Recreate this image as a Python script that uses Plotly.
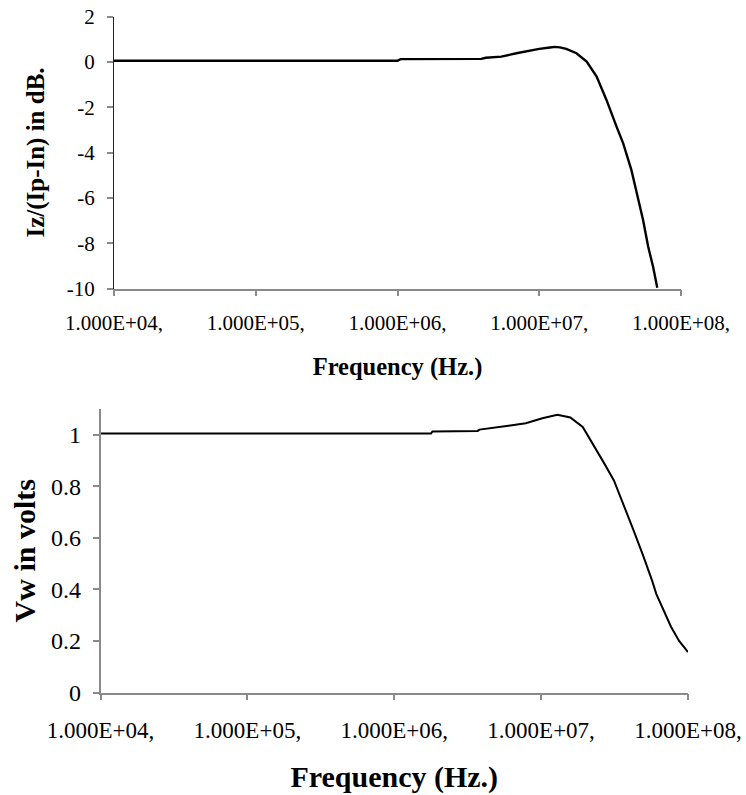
import plotly.graph_objects as go

# ---- Top chart: Iz/(Ip-In) in dB versus frequency ----
freq_db = [1e4, 1.0e6, 1.05e6, 3.9e6, 4.2e6, 5.4e6, 6.9e6, 8.6e6, 1.0e7, 1.19e7,
           1.29e7, 1.4e7, 1.55e7, 1.83e7, 2.16e7, 2.54e7, 2.98e7, 3.51e7, 3.91e7,
           4.47e7, 4.98e7, 5.4e7, 5.87e7, 6.36e7, 6.8e7]
gain_db = [0.05, 0.05, 0.12, 0.13, 0.18, 0.23, 0.38, 0.50, 0.57, 0.63,
           0.66, 0.64, 0.57, 0.38, 0.01, -0.65, -1.68, -2.86, -3.6,
           -4.78, -6.1, -6.98, -8.16, -9.05, -9.97]

# ---- Bottom chart: Vw in volts versus frequency ----
freq_v = [1e4, 1.78e6, 1.82e6, 3.7e6, 3.8e6, 4.9e6, 6.0e6, 7.86e6, 1.02e7, 1.29e7,
          1.58e7, 1.92e7, 2.32e7, 2.69e7, 3.13e7, 3.63e7, 4.22e7, 4.9e7, 5.2e7,
          5.69e7, 6.08e7, 7.1e7, 7.66e7, 8.7e7, 1e8]
vw = [1.005, 1.005, 1.013, 1.015, 1.02, 1.027, 1.035, 1.045, 1.064, 1.078,
      1.067, 1.03, 0.952, 0.889, 0.823, 0.732, 0.635, 0.538, 0.499,
      0.435, 0.383, 0.299, 0.255, 0.20, 0.157]

x_tickvals = [1e4, 1e5, 1e6, 1e7, 1e8]
x_ticktext = ["1.000E+04,", "1.000E+05,", "1.000E+06,", "1.000E+07,", "1.000E+08,"]
y1_tickvals = [2, 0, -2, -4, -6, -8, -10]
y1_ticktext = ["2", "0", "-2", "-4", "-6", "-8", "-10"]
y2_tickvals = [0, 0.2, 0.4, 0.6, 0.8, 1.0]
y2_ticktext = ["0", "0.2", "0.4", "0.6", "0.8", "1"]

W, H = 746, 795
FONT = "Liberation Serif"

fig = go.Figure()
fig.add_trace(go.Scatter(x=freq_db, y=gain_db, mode="lines",
                         line=dict(color="black", width=2.4),
                         xaxis="x", yaxis="y", showlegend=False))
fig.add_trace(go.Scatter(x=freq_v, y=vw, mode="lines",
                         line=dict(color="black", width=2),
                         xaxis="x2", yaxis="y2", showlegend=False))


def px_x(p):
    return p / W


def px_y(p):
    return 1 - p / H


axis_gray = "#8a8a8a"
common = dict(showgrid=False, zeroline=False, showline=True, automargin=False,
              ticks="outside", ticklen=6, tickcolor=axis_gray, tickwidth=1.5)

fig.update_layout(
    template="none",
    width=W, height=H,
    margin=dict(l=0, r=0, t=0, b=0, pad=0),
    paper_bgcolor="white", plot_bgcolor="white",
    font=dict(family=FONT, color="black"),
    xaxis=dict(
        type="log", range=[4, 8], domain=[px_x(114), px_x(681)], anchor="y",
        linecolor=axis_gray, linewidth=1.5,
        tickvals=x_tickvals, ticktext=x_ticktext,
        tickfont=dict(family=FONT, size=21), ticklabelstandoff=9,
        title=dict(text="<b>Frequency (Hz.)</b>", font=dict(family=FONT, size=24.5),
                   standoff=23),
        **common),
    yaxis=dict(
        range=[-10, 2], domain=[px_y(288.5), px_y(16.5)], anchor="x",
        linecolor="#222222", linewidth=1.2,
        tickvals=y1_tickvals, ticktext=y1_ticktext,
        tickfont=dict(family=FONT, size=21), ticklabelstandoff=8,
        title=dict(text="<b>Iz/(Ip-In) in dB.</b>", font=dict(family=FONT, size=25),
                   standoff=14),
        **common),
    xaxis2=dict(
        type="log", range=[4, 8], domain=[px_x(100.5), px_x(688)], anchor="y2",
        linecolor=axis_gray, linewidth=1.5,
        tickvals=x_tickvals, ticktext=x_ticktext,
        tickfont=dict(family=FONT, size=23), ticklabelstandoff=10,
        title=dict(text="<b>Frequency (Hz.)</b>", font=dict(family=FONT, size=30),
                   standoff=24),
        **common),
    yaxis2=dict(
        range=[0, 1.1], domain=[px_y(692.5), px_y(409)], anchor="x2",
        linecolor=axis_gray, linewidth=1.5,
        tickvals=y2_tickvals, ticktext=y2_ticktext,
        tickfont=dict(family=FONT, size=24), ticklabelstandoff=7,
        title=dict(text="<b>Vw in volts</b>", font=dict(family=FONT, size=30),
                   standoff=6),
        **common),
)

fig.write_html("out.html", config={"displayModeBar": False},
               post_script="document.body.style.margin='0';")
